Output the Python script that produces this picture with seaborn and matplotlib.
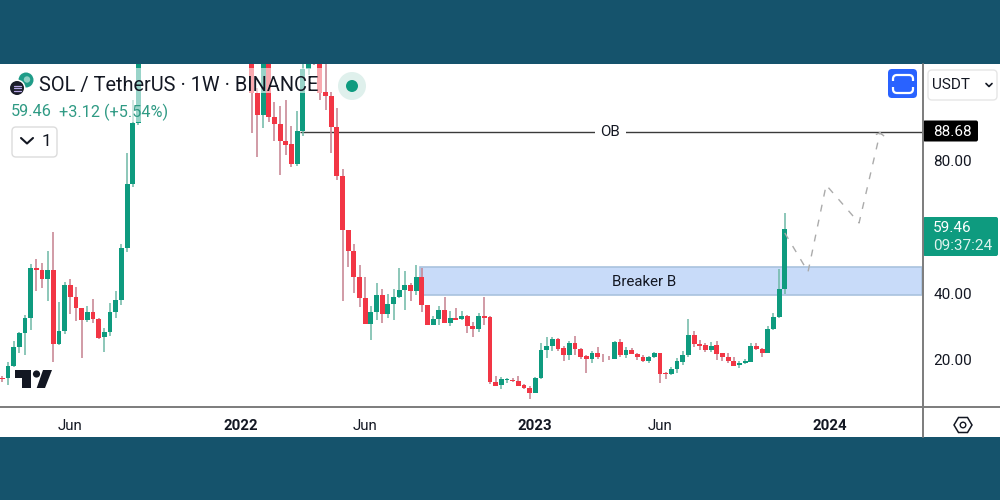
import matplotlib
matplotlib.use('Agg')
import matplotlib.pyplot as plt
from matplotlib.patches import Rectangle, FancyBboxPatch, Circle, Polygon
import pandas as pd
import seaborn as sns

# ── Data (weekly candles, prices) ───────────────────────────────────────────────
# weeks 25-43 sit above the visible range and are left out
weeks = list(range(0, 25)) + list(range(44, 139))
directions = ('rgggggrrgrggrrrgrrggggggg'
              'rrgrrrrrgggrrrrrrrrrrggrggggrgrrggrgrgrrgrrrggrrrrggggrrgrrrgrrrgrgrrrggrrggggrrrgrrrrgggrrgggg')
highs = [15.2, 19.5, 25.8, 28.5, 33.5, 48.8, 50.3, 49.3, 52.9, 58.6,
         37.5, 43.5, 44.3, 42.0, 35.6, 36.2, 38.3, 32.7, 29.5, 37.2,
         40.8, 54.9, 82.3, 98.2, 118,
         130, 101.8, 125, 125, 97.7, 96.5, 98.2, 90.5, 95.0, 109,
         118, 128, 115, 109, 100.6, 95.8, 77.4, 59.1, 54.9, 48.6,
         45.1, 36.2, 43.1, 41.4, 39.8, 41.3, 47.6, 46.9, 43.2, 48.6,
         47.6, 36.6, 33.2, 36.2, 39.0, 34.8, 35.5, 34.7, 33.5, 31.5,
         34.0, 38.9, 33.2, 15.2, 15.0, 14.6, 14.7, 15.2, 12.8, 12.2,
         15.0, 25.2, 26.8, 27.0, 26.6, 24.3, 25.6, 27.2, 23.6, 21.4,
         22.8, 24.0, 21.8, 21.3, 25.6, 26.2, 24.0, 23.5, 22.0, 21.5,
         21.2, 22.5, 22.1, 16.3, 18.0, 20.5, 22.8, 32.3, 28.7, 26.0,
         25.0, 25.5, 25.7, 22.2, 22.0, 20.8, 19.8, 20.2, 25.0, 25.0,
         23.7, 30.3, 34.2, 47.4, 64.1]
body_tops = [14.6, 18.2, 24.0, 28.0, 32.5, 47.6, 47.6, 47.1, 47.1, 47.1,
             28.7, 42.6, 42.6, 38.9, 35.5, 34.5, 34.5, 32.3, 28.4, 34.4,
             38.0, 53.8, 72.9, 91.3, 112,
             125, 100.3, 120, 120, 93.2, 91.0, 85.9, 84.9, 89.0, 107.4,
             115, 125, 112, 100.5, 99.5, 90.0, 75.4, 59.1, 52.8, 45.1,
             38.7, 34.3, 39.5, 39.5, 36.8, 38.9, 41.1, 42.6, 42.6, 45.1,
             45.1, 36.6, 32.3, 35.0, 35.0, 32.5, 32.5, 33.1, 33.2, 30.3,
             33.1, 33.2, 33.0, 13.4, 14.3, 14.2, 14.0, 13.7, 12.6, 11.5,
             14.7, 23.0, 24.3, 26.2, 26.3, 23.6, 25.0, 25.0, 23.4, 21.2,
             22.0, 22.0, 21.0, 20.7, 25.5, 25.5, 23.0, 23.0, 21.8, 21.0,
             20.9, 22.1, 22.0, 16.0, 17.2, 19.7, 21.5, 27.6, 27.6, 24.9,
             24.5, 24.3, 24.4, 22.0, 21.0, 19.6, 19.0, 19.6, 24.2, 24.1,
             23.3, 29.2, 33.0, 41.4, 59.46]
body_bottoms = [14.3, 14.5, 18.2, 24.0, 28.0, 32.5, 47.1, 44.4, 44.4, 24.7,
                24.7, 28.7, 38.9, 35.5, 32.0, 32.0, 32.3, 26.7, 26.8, 28.4,
                34.3, 38.0, 53.8, 72.9, 91.3,
                100.3, 93.7, 93.7, 93.2, 91.0, 85.9, 84.7, 78.9, 78.9, 89.0,
                107.4, 112, 100.3, 99.5, 90.0, 75.4, 59.1, 52.8, 45.1, 38.7,
                30.7, 30.7, 34.3, 33.7, 33.7, 36.8, 38.9, 41.1, 40.8, 40.8,
                36.6, 30.5, 30.5, 32.3, 31.2, 31.2, 32.1, 32.2, 30.3, 29.3,
                29.3, 32.7, 13.3, 12.3, 12.5, 13.9, 13.7, 12.3, 11.5, 10.1,
                10.1, 14.6, 23.0, 24.3, 23.4, 21.6, 21.6, 23.4, 21.0, 20.3,
                20.3, 20.9, 20.8, 20.5, 20.4, 21.5, 21.5, 21.8, 20.8, 19.7,
                19.7, 20.9, 15.8, 15.7, 15.7, 17.2, 19.5, 21.4, 24.9, 24.3,
                23.1, 23.1, 21.9, 20.8, 19.6, 18.2, 18.4, 19.0, 19.4, 23.2,
                22.1, 22.1, 29.2, 32.9, 41.4]
lows = [13.4, 12.5, 18.0, 22.0, 21.5, 29.0, 40.8, 41.7, 37.7, 19.5,
        24.5, 27.7, 33.8, 31.8, 20.5, 31.3, 31.0, 26.3, 22.3, 27.3,
        32.5, 36.5, 52.5, 72.0, 90.7,
        88.3, 81.1, 89.8, 91.7, 85.9, 75.6, 81.7, 78.0, 78.3, 87.2,
        105.7, 108.7, 98.2, 95.2, 82.3, 74.1, 37.8, 48.1, 40.2, 36.0,
        30.7, 26.0, 32.0, 31.2, 32.5, 32.0, 38.6, 35.0, 37.7, 39.5,
        34.5, 30.5, 30.5, 30.5, 31.2, 30.2, 32.1, 32.1, 28.2, 27.0,
        28.3, 30.5, 12.7, 12.2, 11.2, 13.2, 13.5, 12.2, 11.3, 8.2,
        10.0, 14.4, 20.7, 22.7, 22.7, 19.8, 20.0, 21.5, 20.4, 16.2,
        19.0, 20.2, 19.5, 20.0, 20.3, 21.0, 20.5, 21.7, 20.0, 19.5,
        19.0, 20.7, 13.0, 14.2, 15.5, 16.0, 18.5, 21.0, 24.0, 23.0,
        22.5, 22.5, 20.0, 19.7, 19.2, 18.1, 17.5, 18.9, 19.3, 23.0,
        21.0, 22.0, 29.0, 32.7, 39.8]

projection_weeks = [138, 142.1, 145.3, 151.1, 154.8, 155.9, 154.8, 153.9]
projection_prices = [58.2, 46.5, 72.6, 61.2, 88.3, 86.8, 88.3, 87.7]

ob_price = 88.68
breaker_top, breaker_bottom = 47.9, 39.5

y_ticks = [20, 40, 80]
y_labels = ['20.00', '40.00', '80.00']
x_ticks = [12, 42, 64, 94, 116, 146]
x_labels = ['Jun', '2022', 'Jun', '2023', 'Jun', '2024']

# ── Style ───────────────────────────────────────────────────────────────────────
sns.set_theme(style='white')
plt.rcParams['font.family'] = ['Roboto', 'DejaVu Sans']

TEAL = '#15536c'
GREEN = '#0e9b7f'
RED = '#f23645'
GREEN_WICK = '#6db8a6'
RED_WICK = '#c5808e'
INK = '#131722'
RULE = '#7c7c7c'

df = pd.DataFrame({'week': weeks, 'dir': list(directions), 'high': highs,
                   'top': body_tops, 'bottom': body_bottoms, 'low': lows})

fig = plt.figure(figsize=(10, 5), dpi=100, facecolor=TEAL)
fig.patches.append(Rectangle((0, 63 / 500), 1, 373 / 500, transform=fig.transFigure,
                             facecolor='white', edgecolor='none', zorder=-1))

# ── Main chart ──────────────────────────────────────────────────────────────────
ax = fig.add_axes([0, 93 / 500, 0.922, 343 / 500], facecolor='none')
ax.set_xlim(-0.41, 162.2)
ax.set_ylim(5.86, 109.0)

ax.add_patch(Rectangle((73.6, breaker_bottom), 162.2 - 73.6, breaker_top - breaker_bottom,
                       facecolor='#c8dbf9', edgecolor='#a9c2de', lw=1.2, zorder=1))
ax.text(113.2, 43.4, 'Breaker B', ha='center', va='center', fontsize=10.8, color=INK, zorder=2)

ax.hlines(ob_price, 52.5, 162.2, color='#3a3a3a', lw=1.0, zorder=2)
ax.text(107.2, ob_price, 'OB', ha='center', va='center', fontsize=10.8, color=INK, zorder=3,
        bbox=dict(facecolor='white', edgecolor='none', pad=4))

for side, body, wick in [('g', GREEN, GREEN_WICK), ('r', RED, RED_WICK)]:
    part = df[df['dir'] == side]
    ax.vlines(part['week'], part['low'], part['high'], color=wick, lw=1.1, zorder=3)
    ax.bar(part['week'], part['top'] - part['bottom'], bottom=part['bottom'],
           width=0.86, color=body, linewidth=0, zorder=4)

sns.lineplot(x=projection_weeks, y=projection_prices, sort=False, estimator=None,
             color='#ababab', lw=1.0, linestyle=(0, (5, 6)), ax=ax, zorder=5)

ax.set_xticks(x_ticks)
ax.set_xticklabels(x_labels, fontsize=10.8, color=INK)
for lab, txt in zip(ax.get_xticklabels(), x_labels):
    if txt != 'Jun':
        lab.set_fontweight('bold')
ax.yaxis.tick_right()
ax.set_yticks(y_ticks)
ax.set_yticklabels(y_labels, fontsize=11, color=INK)
ax.tick_params(axis='both', length=0)
ax.tick_params(axis='x', pad=9)
ax.tick_params(axis='y', pad=8)
sns.despine(ax=ax, left=True, bottom=True, right=True, top=True)

# ── Overlay in pixel coordinates: panel rules, legend, buttons, price tags ──────
ov = fig.add_axes([0, 0, 1, 1], facecolor='none', zorder=10)
ov.set_xlim(0, 1000)
ov.set_ylim(500, 0)
ov.axis('off')

ov.plot([0, 1000], [407, 407], color=RULE, lw=1.4)
ov.plot([923, 923], [64, 437], color=RULE, lw=1.4)

# legend fades the candles under it
ov.add_patch(Rectangle((8, 68), 162, 54, facecolor='white', alpha=0.58, edgecolor='none'))
ov.add_patch(Rectangle((170, 68), 152, 25, facecolor='white', alpha=0.58, edgecolor='none'))

ov.add_patch(Circle((26, 80), 7.5, facecolor='#1f9c88', edgecolor='none', zorder=1))
ov.add_patch(Circle((27, 79.5), 3.2, facecolor='#8fd0c4', edgecolor='none', zorder=1.2))
ov.add_patch(Circle((17, 88), 8.5, facecolor='white', edgecolor='none', zorder=1.5))
ov.add_patch(Circle((17, 88), 7, facecolor='#1b1d2a', edgecolor='none', zorder=2))
for yy in (85.5, 88, 90.5):
    ov.plot([13.5, 20.5], [yy, yy], color='#b9a9e8', lw=0.9, zorder=3)

ov.text(39, 85, 'SOL / TetherUS · 1W · BINANCE', fontsize=14.4, color=INK, va='center', ha='left')
ov.text(11, 112, '59.46', fontsize=11.7, color='#2f9a84', va='center', ha='left')
ov.text(59, 112, '+3.12 (+5.54%)', fontsize=11.7, color='#2f9a84', va='center', ha='left')

ov.add_patch(Circle((352, 86), 14, facecolor='#dff0ec', edgecolor='none'))
ov.add_patch(Circle((352, 86), 6, facecolor=GREEN, edgecolor='none'))

ov.add_patch(FancyBboxPatch((12, 127), 45, 30, boxstyle='round,pad=0,rounding_size=4',
                            facecolor='white', edgecolor='#dcdcdc', lw=1))
ov.plot([21, 27, 33], [138, 143.5, 138], color=INK, lw=1.5)
ov.text(46, 142, '1', fontsize=12.5, color=INK, va='center', ha='center')

ov.add_patch(Polygon([(15, 370), (31, 370), (31, 388), (22, 388), (22, 378), (15, 378)],
                     facecolor='#131722', edgecolor='none'))
ov.add_patch(Circle((36.5, 374), 3.6, facecolor='#131722', edgecolor='none'))
ov.add_patch(Polygon([(43, 370), (52, 370), (45, 388), (36.7, 388)],
                     facecolor='#131722', edgecolor='none'))

# fullscreen button
ov.add_patch(FancyBboxPatch((888, 69), 29, 29, boxstyle='round,pad=0,rounding_size=4',
                            facecolor='#2962ff', edgecolor='none'))
ov.add_patch(FancyBboxPatch((893, 75), 20, 18, boxstyle='round,pad=0,rounding_size=4',
                            facecolor='none', edgecolor='white', lw=1.6))
ov.add_patch(Rectangle((890, 81), 26, 6, facecolor='#2962ff', edgecolor='none', zorder=3))

# currency button
ov.add_patch(FancyBboxPatch((928, 70), 69, 30, boxstyle='round,pad=0,rounding_size=4',
                            facecolor='white', edgecolor='#e6e6e6', lw=1))
ov.text(932, 85, 'USDT', fontsize=11, color=INK, va='center', ha='left')
ov.plot([986, 989, 992], [83.5, 86.5, 83.5], color=INK, lw=1.2)

# price tags
ov.add_patch(FancyBboxPatch((923, 120.5), 55, 21, boxstyle='round,pad=0,rounding_size=2',
                            facecolor='black', edgecolor='none'))
ov.text(933, 131.5, '88.68', fontsize=11, color='white', va='center', ha='left')
ov.add_patch(FancyBboxPatch((923, 217), 75, 39, boxstyle='round,pad=0,rounding_size=2',
                            facecolor=GREEN, edgecolor='none'))
ov.text(933, 228, '59.46', fontsize=11, color='white', va='center', ha='left')
ov.text(933, 246, '09:37:24', fontsize=11, color='#dff3ee', va='center', ha='left')

# settings hexagon
ov.add_patch(Polygon([(954, 425), (958.5, 417.5), (967.5, 417.5), (972, 425), (967.5, 432.5), (958.5, 432.5)],
                     facecolor='none', edgecolor=INK, lw=1.1))
ov.add_patch(Circle((963, 425), 2.8, facecolor='none', edgecolor=INK, lw=1.0))

fig.savefig('out.png', dpi=100, facecolor=fig.get_facecolor())
